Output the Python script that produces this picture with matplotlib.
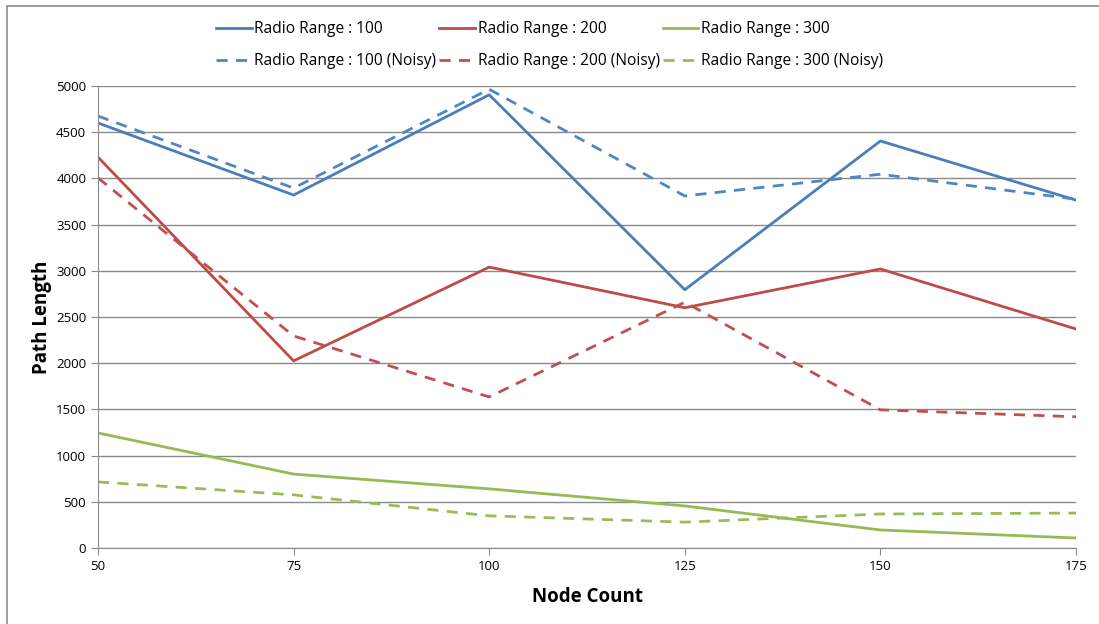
import matplotlib.pyplot as plt
from matplotlib.patches import Rectangle

# node counts on the x axis
nodes = [50, 75, 100, 125, 150, 175]

# path length per radio range, clean and noisy runs
rr100 = [4600, 3820, 4905, 2795, 4405, 3765]
rr200 = [4230, 2025, 3040, 2600, 3020, 2370]
rr300 = [1245, 800, 640, 455, 195, 108]
rr100_noisy = [4675, 3895, 4965, 3810, 4045, 3775]
rr200_noisy = [4005, 2295, 1635, 2660, 1495, 1420]
rr300_noisy = [715, 575, 348, 280, 368, 378]

labels = ['Radio Range : 100', 'Radio Range : 200', 'Radio Range : 300']
colors = ['#4A7EBB', '#BE4B48', '#98B954']
noisy_colors = ['#4F86C6', '#C0504D', '#9BBB59']

plt.rcParams['font.family'] = ['Open Sans', 'DejaVu Sans']

fig = plt.figure(figsize=(10.99, 6.24), dpi=100)
# outer chart border like excel
fig.patches.append(Rectangle((7 / 1099, -0.01), 1.1, 1 - 6 / 624 + 0.01,
                             transform=fig.transFigure, fill=False,
                             edgecolor='#8c8c8c', lw=1.2))
ax = fig.add_axes([98 / 1099, 1 - 548 / 624, (1076 - 98) / 1099, (548 - 86) / 624])

clean = [rr100, rr200, rr300]
noisy = [rr100_noisy, rr200_noisy, rr300_noisy]
handles = []
for i in range(3):
    h1, = ax.plot(nodes, clean[i], color=colors[i], lw=2.0, label=labels[i])
    h2, = ax.plot(nodes, noisy[i], color=noisy_colors[i], lw=2.0,
                  dashes=(4, 3), label=labels[i] + ' (Noisy)')
    handles += [h1, h2]

ax.set_xlim(50, 175)
ax.set_ylim(0, 5000)
ax.set_xticks(nodes)
ax.set_yticks(range(0, 5001, 500))
ax.grid(axis='y', color='#8a8a8a', lw=1)
ax.set_axisbelow(True)
for s in ['top', 'right']:
    ax.spines[s].set_visible(False)
for s in ['left', 'bottom']:
    ax.spines[s].set_color('#8a8a8a')
ax.tick_params(colors='#8a8a8a', labelcolor='black', labelsize=9.5, length=5)

ax.set_xlabel('Node Count', fontsize=13.5, fontweight='bold', labelpad=10)
ax.set_ylabel('Path Length', fontsize=13.5, fontweight='bold', labelpad=3)

fig.legend(handles=handles, loc='upper center', bbox_to_anchor=(0.5, 0.988),
           ncol=3, frameon=False, fontsize=11.2, handlelength=2.3,
           columnspacing=0.2, handletextpad=0.15, labelspacing=1.0)

fig.savefig('out.png', dpi=100)
